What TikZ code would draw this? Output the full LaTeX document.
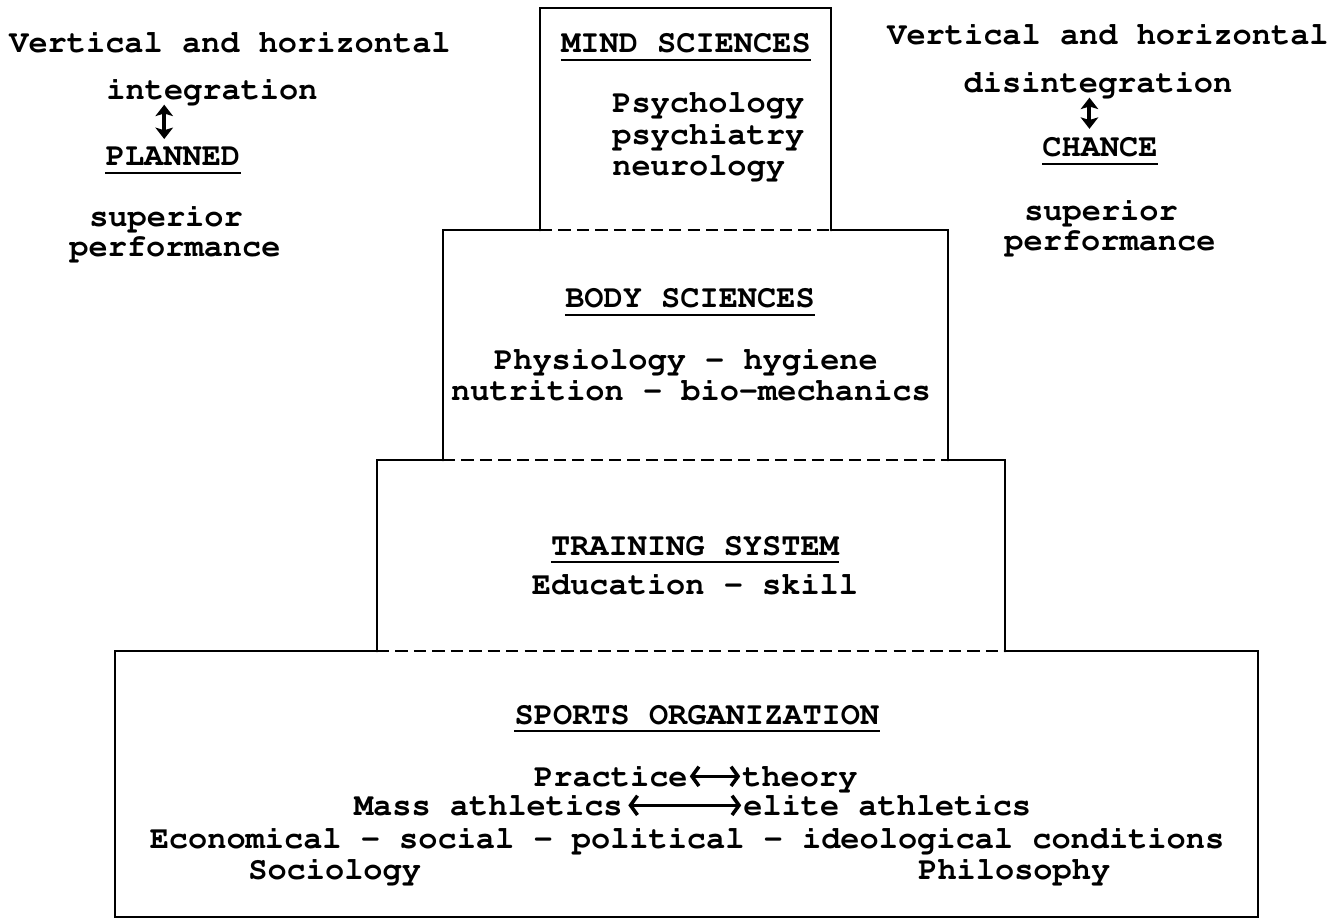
\documentclass[tikz,border=0pt]{standalone}
\usepackage[T1]{fontenc}
\usepackage{courier}
\usetikzlibrary{arrows.meta}

\begin{document}
\begin{tikzpicture}[x=0.02cm,y=-0.02cm,
    every node/.style={font=\ttfamily\bfseries\fontsize{18.2}{20}\selectfont, inner sep=0pt, anchor=base},
    box/.style={line width=1.6pt, line cap=round},
    shared/.style={line width=1.6pt, dash pattern=on 7pt off 3.5pt},
    uline/.style={line width=1.2pt},
    dbl/.style={{Straight Barb[length=4pt,width=11pt,line width=2pt]}-{Straight Barb[length=4pt,width=11pt,line width=2pt]}, line width=1.8pt},
    vert/.style={{Stealth[length=6.5pt,width=10pt,inset=1.5pt]}-{Stealth[length=6.5pt,width=10pt,inset=1.5pt]}, line width=2.3pt}]
    \useasboundingbox (0,0) rectangle (1343,922);

    % draw the mind sciences box
    \draw[box] (540,230) -- (540,8) -- (831,8) -- (831,230);
    \draw[shared] (540,230) -- (831,230);

    % draw the body sciences box
    \draw[box] (443,460) -- (443,230) -- (540,230);
    \draw[box] (831,230) -- (948,230) -- (948,460);
    \draw[shared] (443,460) -- (948,460);

    % draw the training system box
    \draw[box] (377,651) -- (377,460) -- (443,460);
    \draw[box] (948,460) -- (1005,460) -- (1005,651);
    \draw[shared] (377,651) -- (1005,651);

    % draw the sports organization box
    \draw[box] (377,651) -- (115,651) -- (115,917) -- (1258,917) -- (1258,651) -- (1005,651);

    % planned side
    \node (lefttop) at (230,53) {Vertical and horizontal};
    \node (integ) at (212,100) {integration};
    \node (planned) at (173,166) {PLANNED};
    \node (lsup) at (166,227) {superior};
    \node (lperf) at (175,257) {performance};
    \draw[vert] ([xshift=-5pt]integ.south -| planned.north) -- ([xshift=-5pt,yshift=5pt]planned.north);

    % chance side
    \node (righttop) at (1108,45) {Vertical and horizontal};
    \node (disinteg) at (1098,93) {disintegration};
    \node (chance) at (1100,157) {CHANCE};
    \node (rsup) at (1101,221) {superior};
    \node (rperf) at (1110,251) {performance};
    \draw[vert] ([xshift=-6pt]disinteg.south -| chance.north) -- ([xshift=-6pt,yshift=5pt]chance.north);

    % text in the boxes
    \node (mindhead) at (686,53) {MIND SCIENCES};
    \node[anchor=base west] (psycho) at (612,113) {Psychology};
    \node[anchor=base west] (psychi) at (612,145) {psychiatry};
    \node[anchor=base west] (neuro) at (612,176) {neurology};

    \node (bodyhead) at (690,308) {BODY SCIENCES};
    \node (physio) at (686,370) {Physiology - hygiene};
    \node (nutri) at (691,400) {nutrition - bio-mechanics};

    \node (trainhead) at (695,555) {TRAINING SYSTEM};
    \node (educ) at (695,594) {Education - skill};

    \node (sporthead) at (697,724) {SPORTS ORGANIZATION};
    \node[anchor=base east] (practice) at (688,786) {Practice};
    \node[anchor=base west] (theory) at (742,786) {theory};
    \node[anchor=base east] (mass) at (623,815) {Mass athletics};
    \node[anchor=base west] (elite) at (743,815) {elite athletics};
    \node (econ) at (687,848) {Economical - social - political - ideological conditions};
    \node[anchor=base west] (socio) at (248,879) {Sociology};
    \node[anchor=base west] (philo) at (918,879) {Philosophy};

    % arrows between the words
    \draw[dbl] ([xshift=1pt,yshift=5.5pt]practice.base east) -- ([xshift=-1pt,yshift=5.5pt]theory.base west);
    \draw[dbl] ([xshift=3pt,yshift=5.5pt]mass.base east) -- ([xshift=-1pt,yshift=5.5pt]elite.base west);

    % underline the headings
    \foreach \n in {planned,chance,mindhead,bodyhead,trainhead,sporthead}
        \draw[uline] ([yshift=-4pt]\n.base west) -- ([yshift=-4pt]\n.base east);
\end{tikzpicture}
\end{document}
